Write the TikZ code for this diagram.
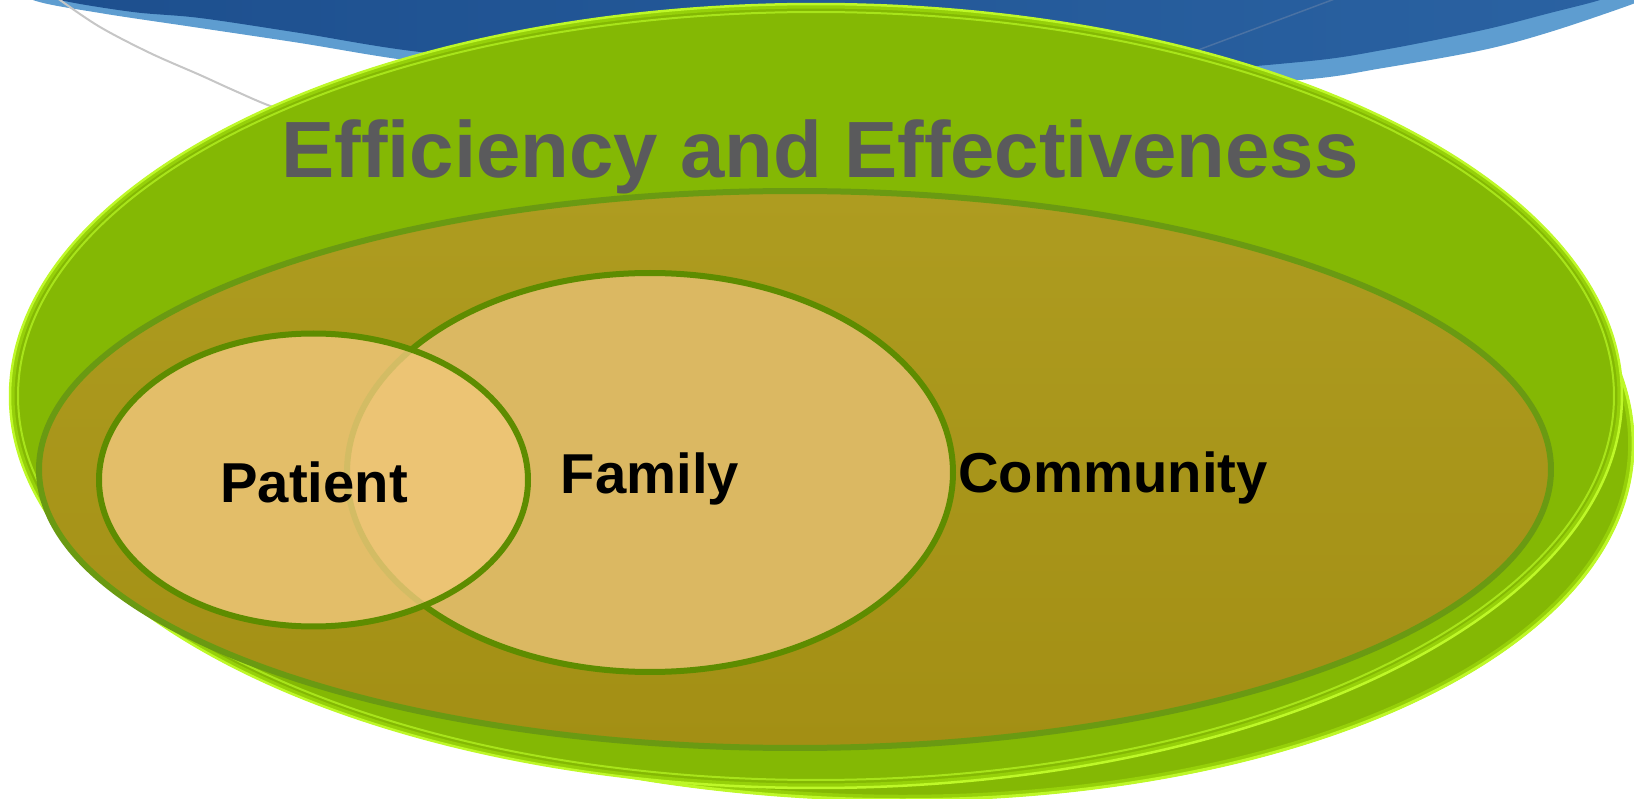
\documentclass[tikz,border=0pt]{standalone}
\usepackage{fontspec}
\setmainfont{Liberation Sans}[Ligatures=NoCommon]
\definecolor{bluedarkA}{HTML}{1D4F8E}
\definecolor{bluedarkB}{HTML}{3676B2}
\definecolor{bluedarkC}{HTML}{2A62A2}
\definecolor{bluelight}{HTML}{5E9DD0}
\definecolor{greenmain}{HTML}{84B804}
\definecolor{greenmid}{HTML}{96D00A}
\definecolor{greenrim}{HTML}{A8E41A}
\definecolor{greenbright}{HTML}{BEF828}
\definecolor{olivetop}{HTML}{AE9C20}
\definecolor{olivebot}{HTML}{A38F14}
\definecolor{oliveline}{HTML}{6A9A12}
\definecolor{ringline}{HTML}{5E8C00}
\definecolor{familyfill}{HTML}{DBB862}
\definecolor{patientfill}{HTML}{E3BE69}
\definecolor{overlapfill}{HTML}{ECC474}
\definecolor{faintline}{HTML}{D3BC64}
\definecolor{titlegray}{HTML}{5A5A5C}
\tikzset{
  titletext/.style={font=\bfseries\fontsize{22.7}{26}\selectfont, text=titlegray, anchor=base, inner sep=0pt},
  ringtext/.style={font=\bfseries\fontsize{16}{19}\selectfont, text=black, anchor=base, inner sep=0pt},
}
\begin{document}
\begin{tikzpicture}[x=0.1mm,y=-0.1mm]
\useasboundingbox (0,0) rectangle (1634,799);
% blue swoosh
\fill[bluelight] plot[smooth,tension=0.55] coordinates {(10,-20) (33,0) (100,13) (200,28) (300,43) (420,62) (600,80) (850,95) (1100,92) (1300,80) (1383,68) (1483,50) (1550,32) (1630,5) (1660,-8)} -- (1660,-30) -- (10,-30) -- cycle;
\shade[left color=bluedarkA, middle color=bluedarkB, right color=bluedarkC] plot[smooth,tension=0.55] coordinates {(45,-10) (60,0) (133,12) (200,18) (300,33) (420,52) (600,68) (850,82) (1100,77) (1300,62) (1383,50) (1483,30) (1550,13) (1600,0) (1615,-8)} -- (1615,-30) -- (45,-30) -- cycle;
\draw[bluedarkA!80, line width=0.15mm] (1150,68) -- (1340,-3);
\draw[gray!45, line width=0.2mm] plot[smooth,tension=0.55] coordinates {(55,-5) (60,0) (100,27) (150,53) (200,75) (233,90) (273,107) (330,125)};
% green back plate (slightly turned)
\begin{scope}[rotate around={-3:(836,412)}]
  \fill[greenmain] (836,412) ellipse [x radius=79.8mm, y radius=38.6mm];
  \draw[greenmid, line width=0.6mm] (836,412) ellipse [x radius=79.6mm, y radius=38.4mm];
  \draw[greenbright, line width=0.3mm] (836,412) ellipse [x radius=79.8mm, y radius=38.6mm];
\end{scope}
% green front ellipse
\fill[greenmain] (816,396) ellipse [x radius=80.6mm, y radius=39.2mm];
\draw[greenrim, line width=0.2mm] (816,396) ellipse [x radius=79.8mm, y radius=38.4mm];
\draw[greenmid, line width=0.5mm] (816,396) ellipse [x radius=80.4mm, y radius=39.0mm];
\draw[greenbright, line width=0.25mm] (816,396) ellipse [x radius=80.6mm, y radius=39.2mm];
% olive ellipse
\shade[top color=olivetop, bottom color=olivebot] (795,469.5) ellipse [x radius=75.6mm, y radius=27.85mm];
\draw[oliveline, line width=0.6mm] (795,469.5) ellipse [x radius=75.6mm, y radius=27.85mm];
% family
\fill[familyfill] (650,472.5) ellipse [x radius=30.3mm, y radius=19.95mm];
\draw[ringline, line width=0.6mm] (650,472.5) ellipse [x radius=30.3mm, y radius=19.95mm];
% patient
\fill[patientfill] (313.5,480) ellipse [x radius=21.45mm, y radius=14.65mm];
\begin{scope}
  \clip (650,472.5) ellipse [x radius=30.3mm, y radius=19.95mm];
  \fill[overlapfill] (313.5,480) ellipse [x radius=21.45mm, y radius=14.65mm];
\end{scope}
\begin{scope}
  \clip (313.5,480) ellipse [x radius=21.45mm, y radius=14.65mm];
  \draw[faintline, line width=0.6mm] (650,472.5) ellipse [x radius=30.3mm, y radius=19.95mm];
\end{scope}
\draw[ringline, line width=0.6mm] (313.5,480) ellipse [x radius=21.45mm, y radius=14.65mm];
% texts
\node[titletext] (title) at (820,178) {Efficiency and Effectiveness};
\node[ringtext] (patient) at (314,502) {Patient};
\node[ringtext] (family) at (650,494) {Family};
\node[ringtext] (community) at (1113,493) {Community};
\end{tikzpicture}
\end{document}
